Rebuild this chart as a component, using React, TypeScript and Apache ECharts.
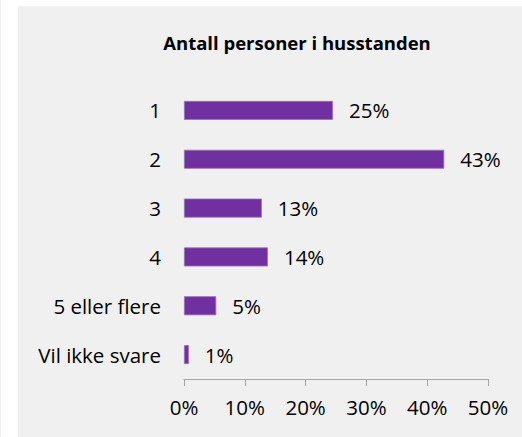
import React, { useEffect, useRef } from "react";
import * as echarts from "echarts";

const categories = ["1", "2", "3", "4", "5 eller flere", "Vil ikke svare"];
const values = [24.5, 42.8, 12.8, 13.8, 5.3, 0.8];
const valueLabels = ["25%", "43%", "13%", "14%", "5%", "1%"];
const xTicks = [0, 10, 20, 30, 40, 50];

export default function App() {
  const ref = useRef<HTMLDivElement>(null);
  useEffect(() => {
    document.body.style.margin = "0";
    const chart = echarts.init(ref.current!, null, { renderer: "svg" });
    const font = "Open Sans";
    const fs = 20.5;
    chart.setOption({
      animation: false,
      backgroundColor: "#ffffff",
      graphic: [
        {
          type: "rect",
          shape: { x: 18, y: 6, width: 504, height: 431 },
          style: { fill: "#f0f0f0" },
          z: -10,
        },
        {
          type: "rect",
          shape: { x: 0, y: 0, width: 1, height: 437 },
          style: { fill: "#eeeeee" },
          z: -10,
        },
      ],
      title: {
        text: "Antall personer i husstanden",
        left: 292,
        top: 28,
        textAlign: "center",
        textStyle: { fontFamily: font, fontWeight: "bold", fontSize: 18.5, color: "#000" },
      },
      grid: { left: 184, right: 34, top: 86, bottom: 58, containLabel: false },
      xAxis: {
        type: "value",
        min: 0,
        max: 50,
        interval: 10,
        axisLine: { show: true, lineStyle: { color: "#a6a6a6", width: 1 } },
        axisTick: { show: true, length: 7, inside: false, lineStyle: { color: "#a6a6a6" } },
        splitLine: { show: false },
        axisLabel: {
          formatter: (v: number) => (xTicks.includes(v) ? v + "%" : ""),
          fontFamily: font,
          fontSize: fs,
          color: "#000",
          margin: 17,
        },
      },
      yAxis: {
        type: "category",
        data: categories,
        inverse: true,
        axisLine: { show: false },
        axisTick: { show: false },
        axisLabel: { fontFamily: font, fontSize: fs, color: "#000", margin: 23 },
      },
      series: [
        {
          type: "bar",
          data: values,
          barWidth: 19,
          itemStyle: { color: "#7030a0", borderColor: "#9a6cc4", borderWidth: 0.8 },
          label: {
            show: true,
            position: "right",
            distance: 16,
            formatter: (p: any) => valueLabels[p.dataIndex],
            fontFamily: font,
            fontSize: fs,
            color: "#000",
          },
        },
      ],
    });
    return () => chart.dispose();
  }, []);
  return <div ref={ref} style={{ width: 522, height: 437 }} />;
}
